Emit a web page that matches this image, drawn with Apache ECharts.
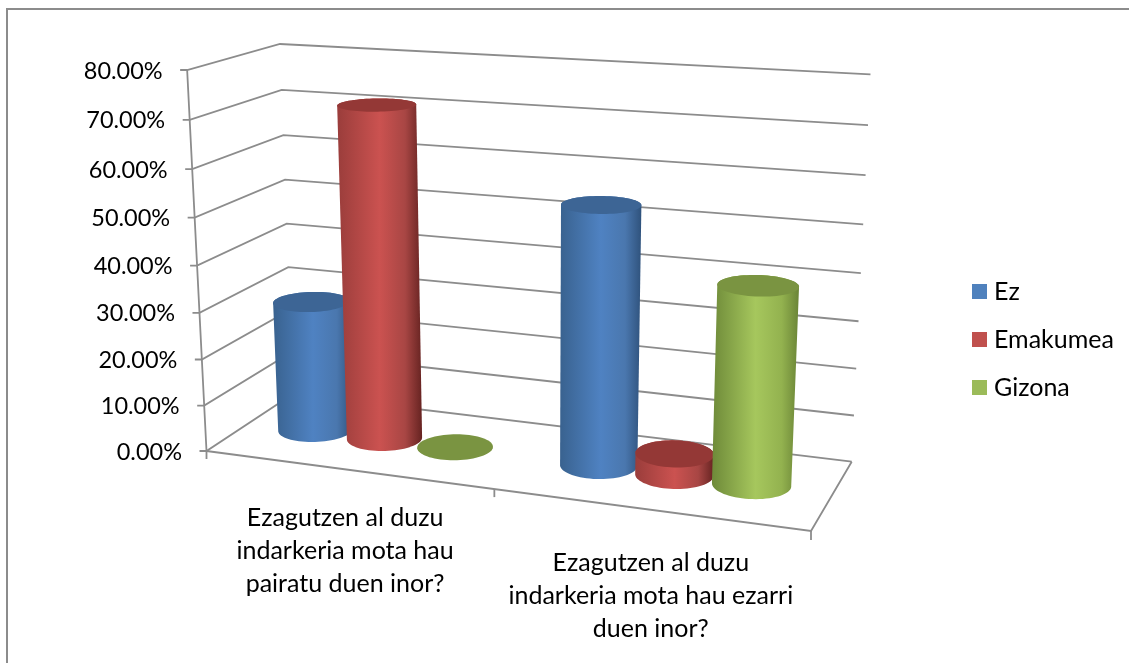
<!DOCTYPE html>
<html>
<head>
<meta charset="utf-8">
<title>Indarkeria</title>
<script src="https://cdn.jsdelivr.net/npm/echarts@6/dist/echarts.min.js"></script>
<style>
  html, body { margin: 0; padding: 0; background: #fff; }
  #main { width: 1129px; height: 663px; }
</style>
</head>
<body>
<div id="main"></div>
<script>
var categories = ['Ezagutzen al duzu\nindarkeria mota hau\npairatu duen inor?', 'Ezagutzen al duzu\nindarkeria mota hau ezarri\nduen inor?']
var yTicks = [0, 10, 20, 30, 40, 50, 60, 70, 80]
var tickLabels = ['0.00%', '10.00%', '20.00%', '30.00%', '40.00%', '50.00%', '60.00%', '70.00%', '80.00%']
var seriesNames = ['Ez', 'Emakumea', 'Gizona']
var ez = [28.6, 54.5]
var emakumea = [71.6, 4.5]
var gizona = [0, 41]

var FONT = 'Lato'
var LINE = '#8c8c8c'

// box corners as seen on screen: front-left, front-right, back-right, back-left
var floorQuad = [[206.5, 451], [811, 531], [851.7, 461.7], [293, 394]]
var roofQuad = [[187, 70], [829, 110], [870.5, 74.3], [280, 44]]
var VANISH = [537, 6959] // verticals of the box meet here
var HEIGHT_K = 1.055

var barStep = 0.126 // distance between cylinders of one group, in axis widths
var barShift = -0.0045
var radiusU = 0.062
var radiusD = 0.2

var looks = [
  { top: '#3d6595', stops: ['#39628f', '#4f82c2', '#4a77ae', '#2f527c'] },
  { top: '#943836', stops: ['#9a3d3b', '#cb5250', '#a84644', '#662321'] },
  { top: '#7a9441', stops: ['#6e8a39', '#a6c75d', '#93b24f', '#6a8436'] }
]

function homography (q) {
  var x0 = q[0][0], y0 = q[0][1], x1 = q[1][0], y1 = q[1][1]
  var x2 = q[2][0], y2 = q[2][1], x3 = q[3][0], y3 = q[3][1]
  var dx1 = x1 - x2, dx2 = x3 - x2, sx = x0 - x1 + x2 - x3
  var dy1 = y1 - y2, dy2 = y3 - y2, sy = y0 - y1 + y2 - y3
  var det = dx1 * dy2 - dx2 * dy1
  var g = (sx * dy2 - dx2 * sy) / det
  var h = (dx1 * sy - sx * dy1) / det
  return function (u, d) {
    var w = g * u + h * d + 1
    return [
      ((x1 - x0 + g * x1) * u + (x3 - x0 + h * x3) * d + x0) / w,
      ((y1 - y0 + g * y1) * u + (y3 - y0 + h * y3) * d + y0) / w
    ]
  }
}
var floorMap = homography(floorQuad)
var roofMap = homography(roofQuad)

// u along the category axis, d into the depth, v up the value axis (all 0..1)
function project (u, d, v) {
  var a = floorMap(u, d)
  var b = roofMap(u, d)
  var t = v / (v + HEIGHT_K * (1 - v))
  var y = a[1] + (b[1] - a[1]) * t
  var x = a[0] + (VANISH[0] - a[0]) / (VANISH[1] - a[1]) * (y - a[1])
  return [x, y]
}

function toUnit (params, api, x, y) {
  var cs = params.coordSys
  var p = api.coord([x, y])
  return [(p[0] - cs.x) / cs.width, (cs.y + cs.height - p[1]) / cs.height]
}

function line (points, width) {
  return {
    type: 'polyline',
    shape: { points: points },
    style: { stroke: LINE, lineWidth: width || 1.8, fill: null }
  }
}

function renderTick (params, api) {
  var v = toUnit(params, api, 0, api.value(1))[1]
  var front = project(0, 0, v)
  return {
    type: 'group',
    children: [
      line([[front[0] - 7, front[1]], front, project(0, 1, v), project(1, 1, v)]),
      {
        type: 'text',
        style: {
          text: tickLabels[params.dataIndex],
          x: front[0] - 24.5,
          y: front[1] + 1,
          align: 'right',
          verticalAlign: 'middle',
          fontFamily: FONT,
          fontSize: 23.5,
          fill: '#000'
        }
      }
    ]
  }
}

function renderFloor (params, api) {
  var fl = project(0, 0, 0)
  var fm = project(0.5, 0, 0)
  var fr = project(1, 0, 0)
  return {
    type: 'group',
    children: [
      line([project(0, 0, 1), fl, [fl[0], fl[1] + 8]]),
      line([fl, fr, project(1, 1, 0)]),
      line([fm, [fm[0], fm[1] + 8]]),
      line([fr, [fr[0], fr[1] + 9]])
    ]
  }
}

function renderCategoryLabel (params, api) {
  var u = toUnit(params, api, api.value(0), 0)[0]
  var p = project(u, 0, 0)
  return {
    type: 'text',
    style: {
      text: categories[params.dataIndex],
      x: p[0] + (u - 0.5) * 8,
      y: p[1] + 31.5 + (u - 0.25) * 11,
      align: 'center',
      verticalAlign: 'top',
      lineHeight: 33,
      fontFamily: FONT,
      fontSize: 25,
      fill: '#000'
    }
  }
}

function ring (u, d, v) {
  var pts = []
  for (var i = 0; i < 72; i++) {
    var a = i / 72 * Math.PI * 2
    pts.push(project(u + radiusU * Math.cos(a), d + radiusD * Math.sin(a), v))
  }
  return pts
}

function extremes (pts) {
  var l = 0, r = 0
  pts.forEach(function (p, i) {
    if (p[0] < pts[l][0]) l = i
    if (p[0] > pts[r][0]) r = i
  })
  return [l, r]
}

function renderCylinder (params, api) {
  var s = params.seriesIndex - 3
  var look = looks[s]
  var q = toUnit(params, api, api.value(0), api.value(1))
  var u = q[0] + (s - 1) * barStep + barShift
  var bottom = ring(u, 0.5, 0)
  var top = ring(u, 0.5, q[1])
  var children = []
  if (api.value(1) > 0) {
    var outline = []
    var be = extremes(bottom)
    var te = extremes(top)
    for (var i = be[0]; i !== be[1]; i = (i + 1) % 72) outline.push(bottom[i])
    outline.push(bottom[be[1]])
    for (var j = te[1]; j !== te[0]; j = (j + 1) % 72) outline.push(top[j])
    outline.push(top[te[0]])
    children.push({
      type: 'polygon',
      shape: { points: outline },
      style: {
        fill: {
          type: 'linear', x: 0, y: 0, x2: 1, y2: 0,
          colorStops: [
            { offset: 0, color: look.stops[0] },
            { offset: 0.5, color: look.stops[1] },
            { offset: 0.8, color: look.stops[2] },
            { offset: 1, color: look.stops[3] }
          ]
        }
      }
    })
  }
  children.push({ type: 'polygon', shape: { points: top }, style: { fill: look.top } })
  return { type: 'group', children: children }
}

function cylinderSeries (name, values) {
  return {
    name: name,
    type: 'custom',
    renderItem: renderCylinder,
    encode: { x: 0, y: 1 },
    data: values.map(function (v, i) { return [i, v] })
  }
}

var myChart = echarts.init(document.getElementById('main'))
myChart.setOption({
  animation: false,
  color: ['#4f81bd', '#c0504d', '#9bbb59'],
  textStyle: { fontFamily: FONT },
  grid: { left: 0, right: 0, top: 0, bottom: 0 },
  xAxis: { type: 'category', data: categories, show: false },
  yAxis: { type: 'value', min: 0, max: 80, interval: 10, show: false },
  legend: {
    data: seriesNames,
    orient: 'vertical',
    left: 972,
    top: 279,
    padding: 0,
    icon: 'rect',
    itemWidth: 15,
    itemHeight: 15,
    itemGap: 23,
    textStyle: { fontFamily: FONT, fontSize: 25, color: '#000', padding: [0, 0, 0, 2] }
  },
  graphic: [{
    type: 'rect',
    shape: { x: 7, y: 9, width: 1400, height: 900 },
    style: { stroke: LINE, lineWidth: 2, fill: null }
  }],
  series: [
    {
      type: 'custom',
      renderItem: renderTick,
      encode: { x: 0, y: 1 },
      data: yTicks.map(function (t) { return [0, t] })
    },
    {
      type: 'custom',
      renderItem: renderFloor,
      encode: { x: 0, y: 1 },
      data: [[0, 0]]
    },
    {
      type: 'custom',
      renderItem: renderCategoryLabel,
      encode: { x: 0, y: 1 },
      data: categories.map(function (c, i) { return [i, 0] })
    },
    cylinderSeries(seriesNames[0], ez),
    cylinderSeries(seriesNames[1], emakumea),
    cylinderSeries(seriesNames[2], gizona)
  ]
})
</script>
</body>
</html>
